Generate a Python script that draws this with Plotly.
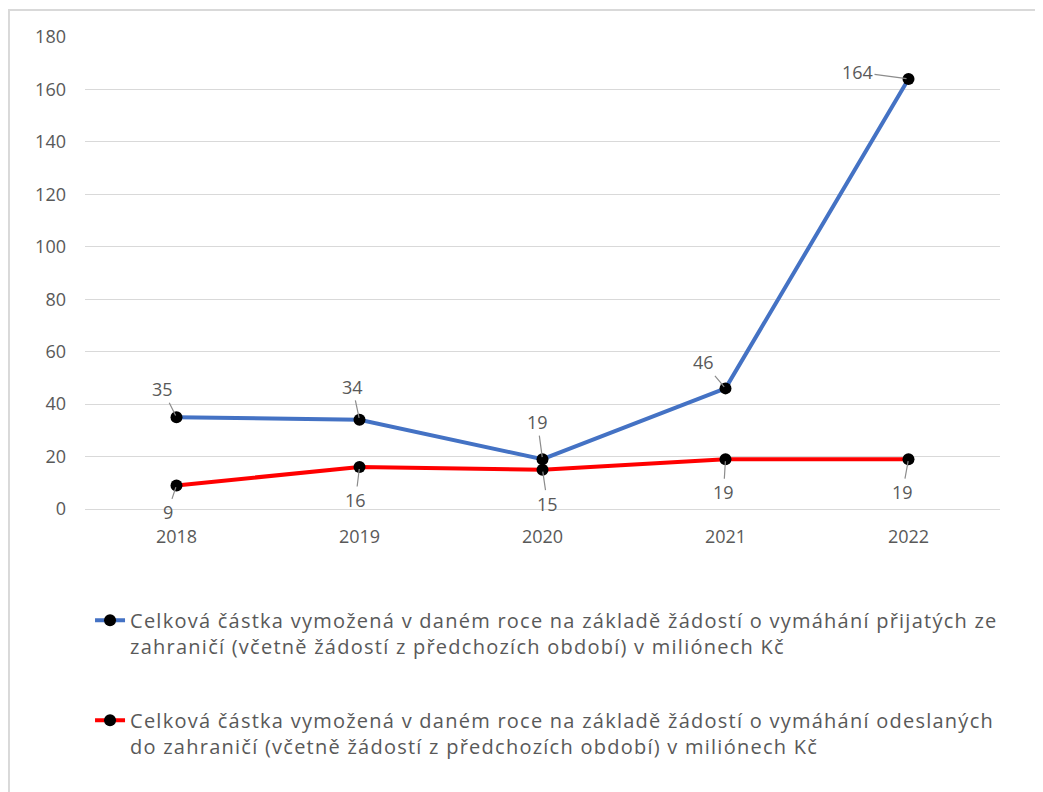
import plotly.graph_objects as go

# --- data ---
YEARS = ["2018", "2019", "2020", "2021", "2022"]
RECEIVED = [35, 34, 19, 46, 164]   # přijaté ze zahraničí
SENT = [9, 16, 15, 19, 19]         # odeslané do zahraničí
Y_TICKS = [0, 20, 40, 60, 80, 100, 120, 140, 160, 180]

NAME_RECEIVED = ["Celková částka vymožená v daném roce na základě žádostí o vymáhání přijatých ze",
                 "zahraničí (včetně žádostí z předchozích období) v miliónech Kč"]
NAME_SENT = ["Celková částka vymožená v daném roce na základě žádostí o vymáhání odeslaných",
             "do zahraničí (včetně žádostí z předchozích období) v miliónech Kč"]

# label offsets (px) for the leader-line labels
OFF_RECEIVED = [(-14, -28), (-7, -33), (-5, -37), (-22, -26), (-51, -7)]
OFF_SENT = [(-9, 27), (-4, 33), (5, 34), (-2, 33), (-6, 33)]

FONT = "Open Sans, Lato, sans-serif"
GREY = "#595959"
GRID = "#D9D9D9"


def legend_name(lines):
    # wider tracking to mimic the stretched Calibri legend of the original
    return "<br>".join(f'<span style="letter-spacing:1.25px">{l}</span>' for l in lines)


fig = go.Figure()
fig.add_trace(go.Scatter(
    x=YEARS, y=RECEIVED, name=legend_name(NAME_RECEIVED), mode="lines+markers",
    line=dict(color="#4472C4", width=4),
    marker=dict(color="black", size=12), legendgroup="a"))
fig.add_trace(go.Scatter(
    x=YEARS, y=SENT, name=legend_name(NAME_SENT), mode="lines+markers",
    line=dict(color="#FF0000", width=4),
    marker=dict(color="black", size=12), legendgroup="b"))

# data labels with short leader lines (x given as category index)
for vals, offs in [(RECEIVED, OFF_RECEIVED), (SENT, OFF_SENT)]:
    for i, (v, (ax, ay)) in enumerate(zip(vals, offs)):
        fig.add_annotation(x=i, y=v, text=str(v), showarrow=True,
                           arrowhead=0, arrowwidth=1.2, arrowcolor="#8C8C8C",
                           ax=ax, ay=ay, standoff=2,
                           font=dict(family=FONT, size=18, color=GREY))

# chart area border (only top and left visible in the original crop)
fig.add_shape(type="rect", xref="paper", yref="paper",
              x0=-0.0831, x1=1.2, y0=-0.8, y1=1.0572,
              line=dict(color=GRID, width=2), fillcolor="rgba(0,0,0,0)",
              layer="below")

fig.update_layout(
    width=1035, height=784,
    margin=dict(l=77, r=43, t=29, b=283),
    paper_bgcolor="white", plot_bgcolor="white",
    font=dict(family=FONT, size=18, color=GREY),
    showlegend=True,
    legend=dict(x=0.0055, y=-0.1945, xanchor="left", yanchor="top",
                font=dict(family=FONT, size=20, color=GREY),
                valign="top", traceorder="grouped", tracegroupgap=45,
                bgcolor="rgba(0,0,0,0)"),
)
fig.update_xaxes(type="category", range=[-0.5, 4.5], showgrid=False,
                 showline=False, ticks="", ticklabelstandoff=15,
                 tickfont=dict(size=18, color=GREY))
fig.update_yaxes(range=[0, 180], tickvals=Y_TICKS, showgrid=True,
                 gridcolor=GRID, gridwidth=1, zeroline=True,
                 zerolinecolor=GRID, zerolinewidth=1, showline=False,
                 ticks="", ticklabelstandoff=18,
                 tickfont=dict(size=18, color=GREY))

fig.write_html("out.html")
